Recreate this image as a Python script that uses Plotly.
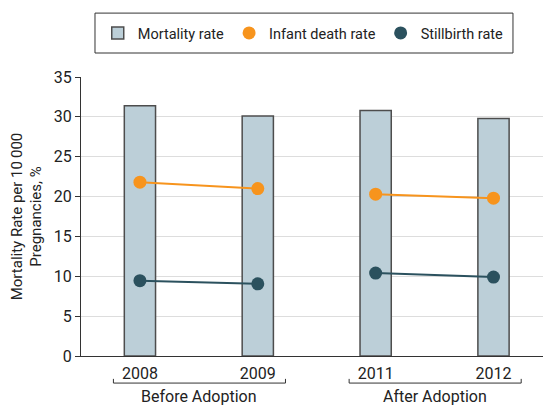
import plotly.graph_objects as go

years = ["2008", "2009", "2011", "2012"]
mortality = [31.4, 30.1, 30.8, 29.8]
infant = [21.8, 21.0, 20.3, 19.8]
stillbirth = [9.45, 9.05, 10.4, 9.9]
groups = ["Before Adoption", "After Adoption"]
group_members = [[0, 1], [2, 3]]
yticks = [0, 5, 10, 15, 20, 25, 30, 35]

FONT = "Roboto"
ORANGE = "#f7941d"
TEAL = "#2b515e"
xpos = list(range(len(years)))

def gapped(vals):
    xs, ys = [], []
    for gi, mem in enumerate(group_members):
        if gi:
            xs.append(None); ys.append(None)
        for i in mem:
            xs.append(xpos[i]); ys.append(vals[i])
    return xs, ys

fig = go.Figure()
fig.add_trace(go.Bar(x=xpos, y=mortality, name="Mortality rate", width=0.265,
                     marker=dict(color="#bccfd8", line=dict(color="#4d4d4d", width=1.5))))
for vals, name, col in [(infant, "Infant death rate", ORANGE), (stillbirth, "Stillbirth rate", TEAL)]:
    gx, gy = gapped(vals)
    fig.add_trace(go.Scatter(x=gx, y=gy, mode="lines", showlegend=False,
                             line=dict(color=col, width=2), hoverinfo="skip"))
    fig.add_trace(go.Scatter(x=xpos, y=vals, name=name, mode="markers",
                             marker=dict(color=col, size=13)))

# legend box
fig.add_shape(type="rect", xref="paper", yref="paper", x0=0.0303, x1=0.935, y0=1.086, y1=1.229,
              line=dict(color="#333333", width=1), fillcolor="rgba(0,0,0,0)")

# group brackets and labels
for gi, mem in enumerate(group_members):
    x0 = xpos[mem[0]] - 0.225
    x1 = xpos[mem[-1]] + 0.235
    fig.add_shape(type="path", xref="x", yref="paper",
                  path=f"M {x0},-0.082 L {x0},-0.097 L {x1},-0.097 L {x1},-0.082",
                  line=dict(color="#333333", width=1))
    fig.add_annotation(x=(x0 + x1) / 2, y=-0.105, xref="x", yref="paper",
                       text=groups[gi], showarrow=False, yanchor="top",
                       font=dict(family=FONT, size=16, color="#222222"))

fig.update_layout(
    width=543, height=407,
    margin=dict(l=81, r=0, t=77, b=51),
    plot_bgcolor="white", paper_bgcolor="white",
    font=dict(family=FONT, size=15, color="#222222"),
    showlegend=True,
    legend=dict(orientation="h", x=0.18, y=1 - 33 / 407, xref="container", yref="container",
                xanchor="left", yanchor="middle", borderwidth=0,
                font=dict(size=14.5), itemwidth=30, traceorder="normal",
                bgcolor="rgba(0,0,0,0)"),
    xaxis=dict(range=[-0.5, 3.42], tickmode="array", tickvals=xpos, ticktext=years,
               tickfont=dict(size=16),
               showgrid=False, showline=True, linecolor="#333333", linewidth=1,
               ticks="", ticklabelstandoff=3, zeroline=False, fixedrange=True),
    yaxis=dict(range=[0, 35], tickvals=yticks, showgrid=True, gridcolor="#dddddd",
               tickfont=dict(size=16),
               showline=True, linecolor="#333333", linewidth=1, ticks="outside",
               ticklen=5, tickcolor="#333333", zeroline=False,
               title=dict(text="Mortality Rate per 10\u2009000<br>Pregnancies, %",
                          font=dict(size=15), standoff=8)),
)
fig.write_html("out.html", post_script="document.body.style.margin='0';",
               config={"displayModeBar": False})
